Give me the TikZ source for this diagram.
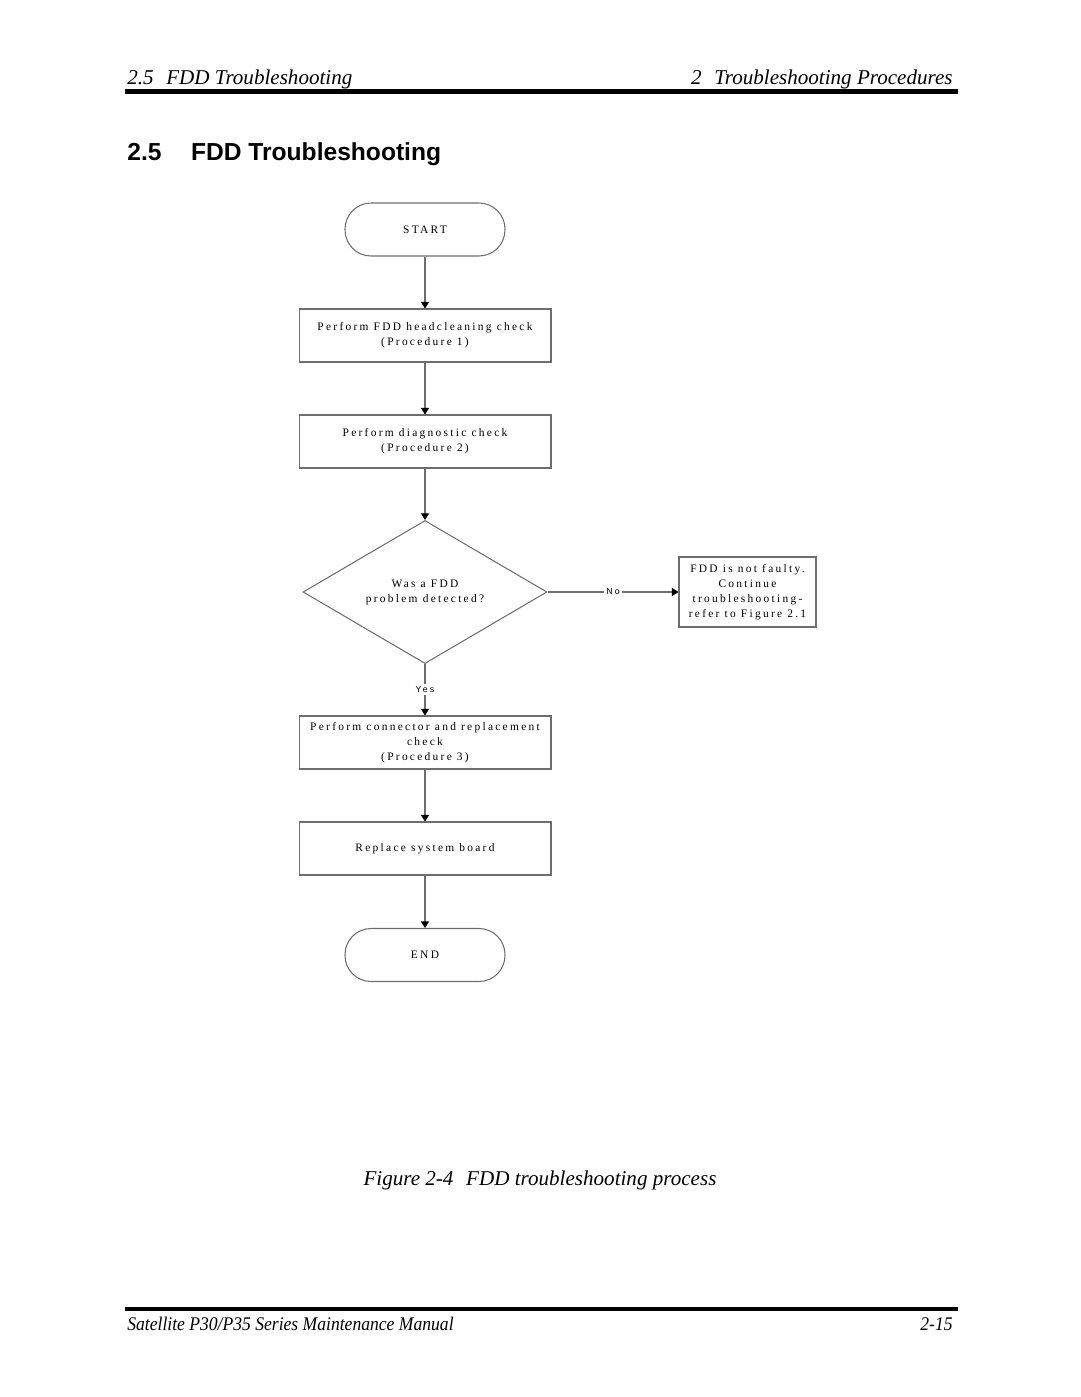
\documentclass[tikz,border=0pt]{standalone}
\usepackage{fontspec}
\setmainfont{Liberation Serif}
\setsansfont{Liberation Sans}
\newfontfamily\chartfont[LetterSpace=20]{Liberation Serif}
\newfontfamily\chartsans[LetterSpace=25]{Liberation Sans}
\newfontfamily\footfont[FakeStretch=0.91]{Liberation Serif}
\usetikzlibrary{arrows.meta,positioning,shapes.geometric}
\definecolor{ink}{HTML}{000000}
\definecolor{linegray}{HTML}{6E6E6E}
\tikzset{
  >={Triangle[length=1.3mm,width=1.6mm,color=ink]},
  chartbox/.style={draw=linegray,line width=.6pt,align=center,inner sep=0pt,
    font=\chartfont\fontsize{6.5}{8.5}\selectfont},
  terminal/.style={chartbox,rounded corners=5.2mm,minimum width=3.2cm,minimum height=1.06cm},
  procbox/.style={chartbox,minimum width=5.04cm,minimum height=1.06cm},
  notebox/.style={chartbox,minimum width=2.74cm,minimum height=1.4cm},
  decision/.style={chartbox,diamond,minimum width=4.88cm,minimum height=2.82cm},
  flow/.style={->,draw=linegray,line width=.6pt},
  answer/.style={fill=white,inner sep=1.5pt,font=\chartsans\fontsize{5}{6}\selectfont},
  runhead/.style={font=\itshape\fontsize{12}{14}\selectfont,inner sep=0pt},
  runfoot/.style={font=\footfont\itshape\fontsize{11}{13}\selectfont,inner sep=0pt},
  rule/.style={line width=2.3pt,draw=ink},
}

\begin{document}
\begin{tikzpicture}[x=0.02cm,y=-0.02cm]
  \useasboundingbox (0,0) rectangle (1080,1397);
  % running head
  \node[runhead,anchor=base west] (headl) at (127,84) {2.5\hspace{.6em}FDD Troubleshooting};
  \node[runhead,anchor=base east] (headr) at (953,84) {2\hspace{.6em}Troubleshooting Procedures};
  \draw[rule] (125,91.5) -- (958,91.5);
  \node[anchor=base west,inner sep=0pt,font=\sffamily\bfseries\fontsize{14}{16}\selectfont]
    (title) at (127,160) {2.5\hspace{1.2em}FDD Troubleshooting};

  % flowchart
  \node[terminal] (start) at (425,229.5) {START};
  \node[procbox] (clean) at (425,335.5) {Perform FDD headcleaning check\\(Procedure 1)};
  \node[procbox] (diag) at (425,441.5) {Perform diagnostic check\\(Procedure 2)};
  \node[decision] (found) at (425,592) {Was a FDD\\problem detected?};
  \node[notebox] (fine) at (747.5,592) {FDD is not faulty.\\Continue\\troubleshooting-\\refer to Figure 2.1};
  \node[procbox] (conn) at (425,742.5) {Perform connector and replacement\\check\\(Procedure 3)};
  \node[procbox] (board) at (425,848.5) {Replace system board};
  \node[terminal] (stop) at (425,955) {END};

  \draw[flow] (start) -- (clean);
  \draw[flow] (clean) -- (diag);
  \draw[flow] (diag) -- (found);
  \draw[flow] (found) -- node[answer] {No} (fine);
  \draw[flow] (found) -- node[answer] {Yes} (conn);
  \draw[flow] (conn) -- (board);
  \draw[flow] (board) -- (stop);

  % caption and footer
  \node[anchor=base,inner sep=0pt,font=\itshape\fontsize{12}{14}\selectfont]
    (caption) at (540,1185) {Figure 2-4\hspace{.6em}FDD troubleshooting process};
  \draw[rule] (125,1309) -- (958,1309);
  \node[runfoot,anchor=base west] (footl) at (127,1330) {Satellite P30/P35 Series Maintenance Manual};
  \node[runfoot,anchor=base east] (footr) at (953,1330) {2-15};
\end{tikzpicture}
\end{document}
